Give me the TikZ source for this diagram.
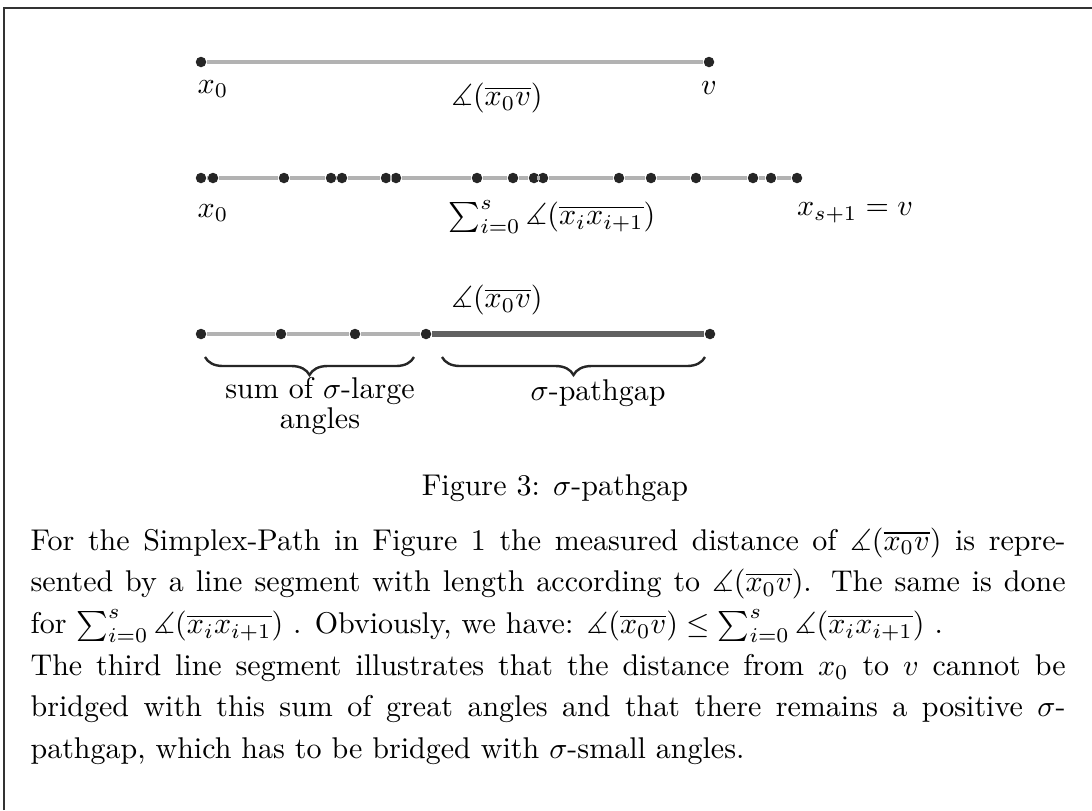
\documentclass[tikz,border=0pt]{standalone}
\usepackage{amsmath,amssymb}
\usepackage{tikz}
\usetikzlibrary{decorations.pathreplacing}
\tikzset{
  dot/.style={circle,fill=black!85,inner sep=0pt,minimum size=3.5pt},
  seg/.style={draw=gray!60,line width=1.4pt},
  gapseg/.style={draw=black!62,line width=2.3pt},
  lbl/.style={inner sep=1pt},
  ubrace/.style={decorate,decoration={brace,mirror,amplitude=6pt},line width=0.8pt,draw=black!85},
  frame/.style={draw=black!80,line width=0.5pt}
}

\begin{document}
\begin{tikzpicture}[x=0.33333pt,y=-0.33333pt]
  \useasboundingbox (0,0) rectangle (1092,810);
  \draw[frame] (4,810) -- (4,8) -- (1092,8);

  % first line: x_0 to v
  \node[dot] (a0) at (201,62) {};
  \node[dot] (a1) at (709,62) {};
  \draw[seg] (a0) -- (a1);
  \node[lbl] (a0lbl) at (213,89) {$x_0$};
  \node[lbl] (a1lbl) at (709,88) {$v$};
  \node[lbl] (aang) at (497,98) {$\measuredangle(\overline{x_0v})$};

  % second line: the path x_0,...,x_{s+1}
  \foreach \xx [count=\i from 0] in {201,213,284,331,342,386,396,477,513,534,543,619,651,696,753,771,797}
    \node[dot] (b\i) at (\xx,178) {};
  \foreach \i [evaluate=\i as \j using int(\i+1)] in {0,...,15}
    \draw[seg] (b\i) -- (b\j);
  \node[lbl] (b0lbl) at (213,213) {$x_0$};
  \node[lbl] (bsum) at (552,217) {$\sum_{i=0}^{s}\measuredangle(\overline{x_ix_{i+1}})$};
  \node[lbl] (bend) at (855,213) {$x_{s+1}=v$};

  % third line: large angles plus the gap
  \node[lbl] (cang) at (497,300) {$\measuredangle(\overline{x_0v})$};
  \node[dot] (c0) at (201,334) {};
  \node[dot] (c1) at (281,334) {};
  \node[dot] (c2) at (355,334) {};
  \node[dot] (c3) at (426,334) {};
  \node[dot] (c4) at (710,334) {};
  \draw[seg] (c0) -- (c1);
  \draw[seg] (c1) -- (c2);
  \draw[seg] (c2) -- (c3);
  \draw[gapseg] (c3) -- (c4);

  \coordinate (lb1) at (205,357);
  \coordinate (lb2) at (414,357);
  \coordinate (gb1) at (442,357);
  \coordinate (gb2) at (705,357);
  \draw[ubrace] (lb1) -- (lb2);
  \draw[ubrace] (gb1) -- (gb2);
  \node[lbl,align=center,font=\fontsize{10pt}{10pt}\selectfont] (large) at (320,406) {sum of $\sigma$-large\\angles};
  \node[lbl] (gap) at (598,393) {$\sigma$-pathgap};

  \node (caption) at (555,488) {Figure 3: $\sigma$-pathgap};

  \node[text width=345pt,align=justify,anchor=north west,inner sep=0pt,
        font=\fontsize{10pt}{13.9pt}\selectfont] (para) at (30,527)
    {For the Simplex-Path in Figure 1 the measured distance of $\measuredangle(\overline{x_0v})$ is repre-\linebreak
     sented by a line segment with length according to $\measuredangle(\overline{x_0v})$. The same is done\linebreak
     for $\sum_{i=0}^{s}\measuredangle(\overline{x_ix_{i+1}})$ . Obviously, we have: $\measuredangle(\overline{x_0v})\leq\sum_{i=0}^{s}\measuredangle(\overline{x_ix_{i+1}})$ .\\
     The third line segment illustrates that the distance from $x_0$ to $v$ cannot be\linebreak
     bridged with this sum of great angles and that there remains a positive $\sigma$-\linebreak
     pathgap, which has to be bridged with $\sigma$-small angles.};
\end{tikzpicture}
\end{document}
